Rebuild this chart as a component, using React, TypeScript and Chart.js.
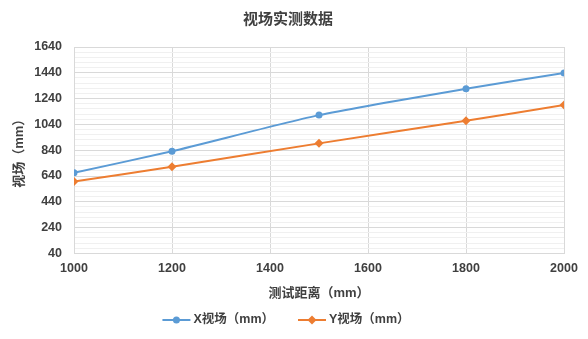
import React, { useEffect, useRef } from "react";
import { Chart, registerables } from "chart.js";

Chart.register(...registerables);

const distances = [1000, 1200, 1500, 1800, 2000];
const xFieldValues = [665, 832, 1112, 1316, 1438];
const yFieldValues = [597, 712, 893, 1068, 1190];
const seriesNames = ["X视场（mm）", "Y视场（mm）"];
const chartTitle = "视场实测数据";
const xAxisTitle = "测试距离（mm）";
const yAxisTitle = "视场（mm）";
const yMin = 40;
const yMax = 1640;
const yMajorStep = 200;
const yMinorStep = 40;
const xMin = 1000;
const xMax = 2000;
const xStep = 200;

const BLUE = "#5B9BD5";
const ORANGE = "#ED7D31";
const TEXT = "#404040";
const FONT = "'Liberation Sans', 'Noto Sans CJK SC', sans-serif";

function drawMarker(g: CanvasRenderingContext2D, shape: string, x: number, y: number, r: number) {
  g.beginPath();
  if (shape === "circle") {
    g.arc(x, y, r, 0, Math.PI * 2);
  } else {
    g.moveTo(x, y - r);
    g.lineTo(x + r, y);
    g.lineTo(x, y + r);
    g.lineTo(x - r, y);
    g.closePath();
  }
  g.fill();
}

const customLegend = {
  id: "customLegend",
  afterDraw(chart: any) {
    const g: CanvasRenderingContext2D = chart.ctx;
    const datasets = chart.data.datasets;
    const lineW = 28;
    const textGap = 3;
    const itemGap = 24;
    g.save();
    g.font = `bold 12.5px ${FONT}`;
    const widths = datasets.map((ds: any) => lineW + textGap + g.measureText(ds.label).width);
    const total = widths.reduce((a: number, b: number) => a + b, 0) + itemGap * (datasets.length - 1);
    let x = chart.width / 2 - 12 - total / 2 + 4;
    const y = 320;
    datasets.forEach((ds: any, i: number) => {
      g.strokeStyle = ds.borderColor;
      g.fillStyle = ds.borderColor;
      g.lineWidth = 2;
      g.beginPath();
      g.moveTo(x, y);
      g.lineTo(x + lineW, y);
      g.stroke();
      drawMarker(g, ds.pointStyle === "circle" ? "circle" : "diamond", x + lineW / 2, y, ds.pointStyle === "circle" ? 3.5 : 4.5);
      g.fillStyle = TEXT;
      g.textBaseline = "middle";
      g.textAlign = "left";
      g.fillText(ds.label, x + lineW + textGap, y);
      x += widths[i] + itemGap;
    });
    g.restore();
  },
};

export default function App() {
  const ref = useRef<HTMLCanvasElement | null>(null);

  useEffect(() => {
    if (!ref.current) return;
    const chart = new Chart(ref.current, {
      type: "line",
      data: {
        datasets: [
          {
            label: seriesNames[0],
            data: distances.map((d, i) => ({ x: d, y: xFieldValues[i] })),
            borderColor: BLUE,
            backgroundColor: BLUE,
            borderWidth: 2,
            pointStyle: "circle",
            pointRadius: 3.5,
            pointBorderWidth: 0,
            tension: 0.2,
          },
          {
            label: seriesNames[1],
            data: distances.map((d, i) => ({ x: d, y: yFieldValues[i] })),
            borderColor: ORANGE,
            backgroundColor: ORANGE,
            borderWidth: 2,
            pointStyle: "rectRot",
            pointRadius: 4.5,
            pointBorderWidth: 0,
            tension: 0.2,
          },
        ],
      },
      options: {
        animation: false,
        responsive: false,
        layout: { padding: { left: 12, right: 24, top: 4, bottom: 36 } },
        plugins: {
          title: {
            display: true,
            text: chartTitle,
            color: TEXT,
            font: { family: FONT, size: 15, weight: "bold" },
            padding: { top: 7, bottom: 18 },
          },
          legend: { display: false },
          tooltip: { enabled: false },
        },
        scales: {
          x: {
            type: "linear",
            min: xMin,
            max: xMax,
            ticks: {
              stepSize: xStep,
              color: TEXT,
              font: { family: FONT, size: 12.5, weight: "bold" },
              padding: 8,
              callback: (v: any) => String(v),
            },
            grid: { color: "#D9D9D9", drawTicks: false },
            border: { color: "#D9D9D9" },
            title: {
              display: true,
              text: xAxisTitle,
              color: TEXT,
              font: { family: FONT, size: 13, weight: "bold" },
              padding: { top: 1, bottom: 2 },
            },
          },
          y: {
            type: "linear",
            min: yMin,
            max: yMax,
            afterFit: (s: any) => {
              s.width = 62;
            },
            ticks: {
              stepSize: yMinorStep,
              autoSkip: false,
              color: TEXT,
              font: { family: FONT, size: 12.5, weight: "bold" },
              padding: 12,
              callback: (v: any) => ((Number(v) - yMin) % yMajorStep === 0 ? String(v) : ""),
            },
            grid: {
              drawTicks: false,
              color: (c: any) =>
                c.tick && (c.tick.value - yMin) % yMajorStep === 0 ? "#D9D9D9" : "#F0F0F0",
            },
            border: { color: "#D9D9D9" },
            title: {
              display: true,
              text: yAxisTitle,
              color: TEXT,
              font: { family: FONT, size: 13, weight: "bold" },
              padding: { top: 0, bottom: 0 },
            },
          },
        },
      },
      plugins: [customLegend],
    });
    return () => chart.destroy();
  }, []);

  return (
    <div style={{ position: "fixed", left: 0, top: 0, width: 588, height: 339, background: "#fff" }}>
      <canvas ref={ref} width={588} height={339} style={{ display: "block" }} />
    </div>
  );
}
